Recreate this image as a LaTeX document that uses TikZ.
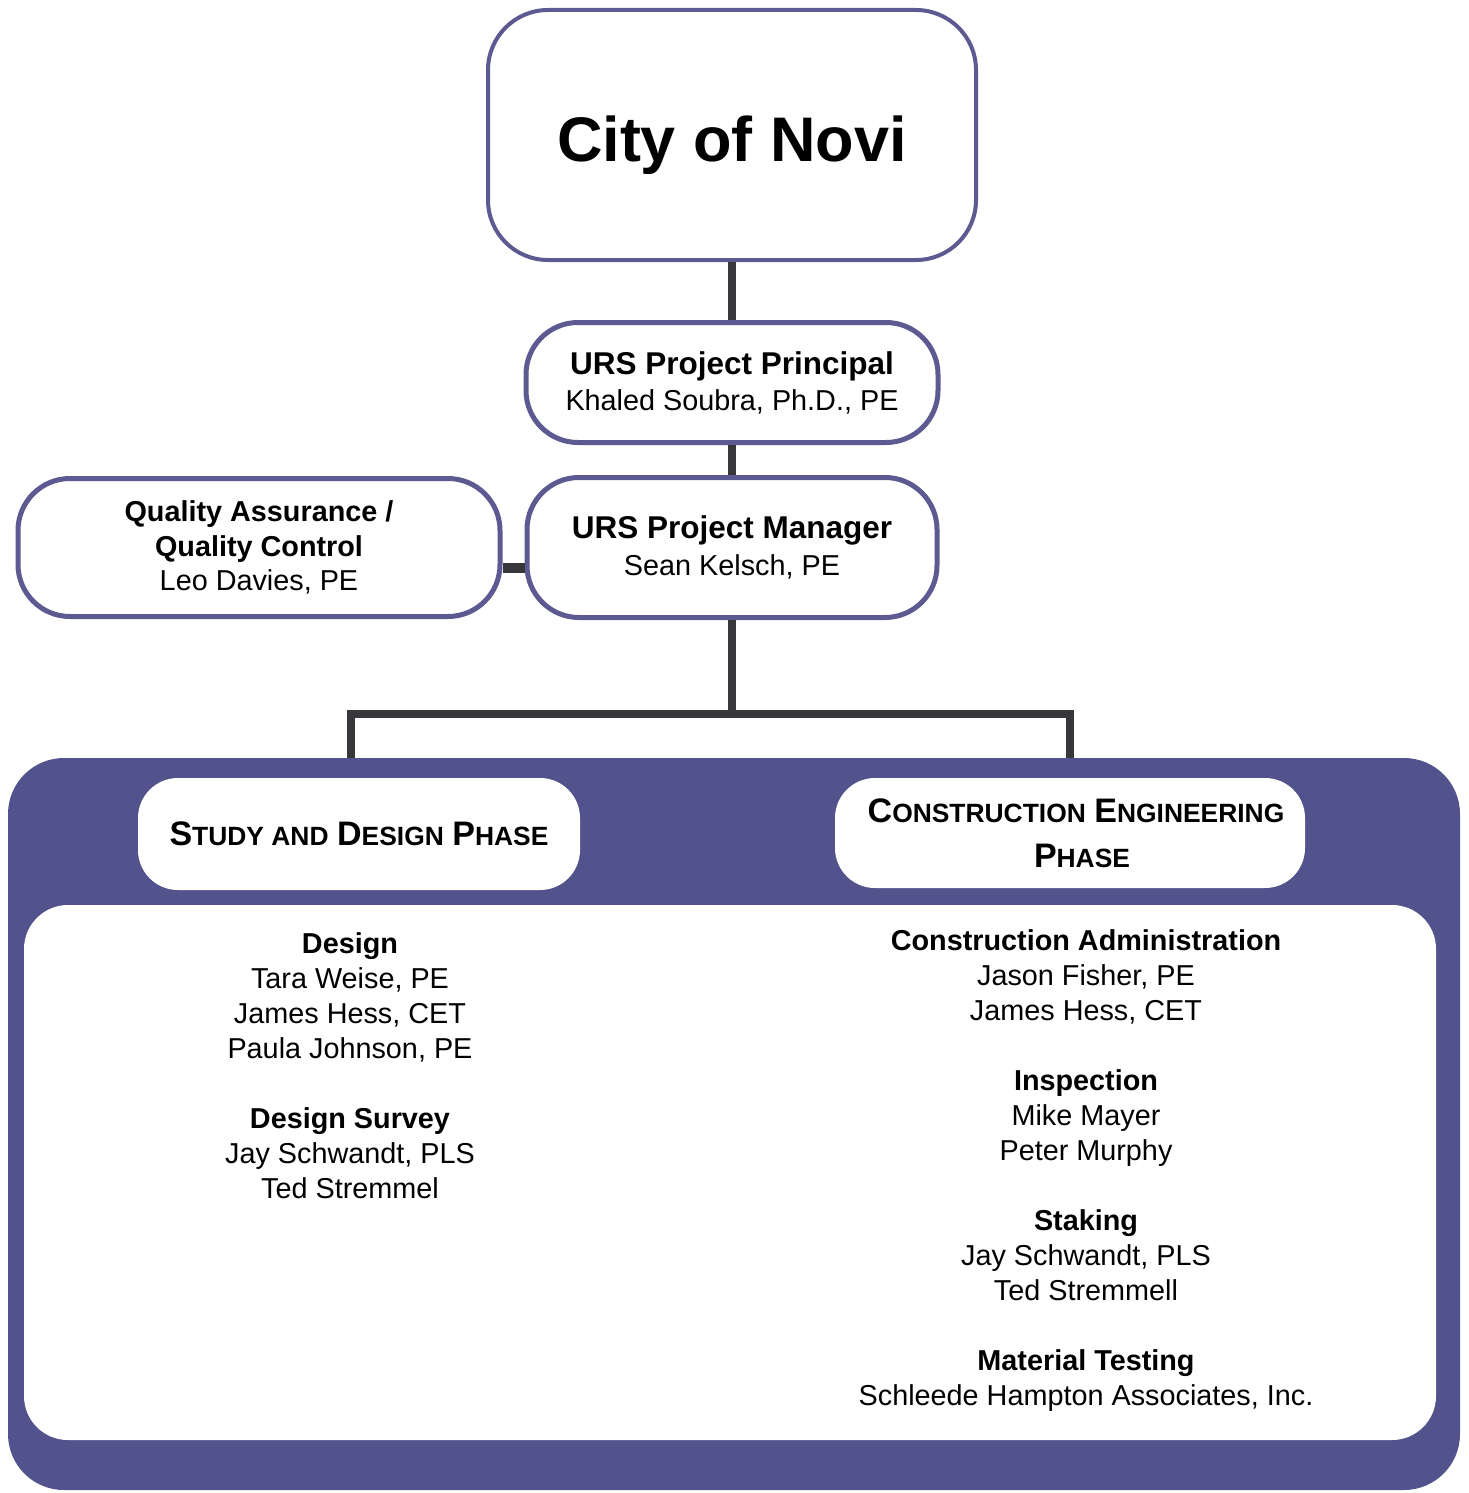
\documentclass[tikz,border=0pt]{standalone}
\usepackage{xcolor}
\usepackage{fontspec}
\setmainfont{Liberation Sans}
\usetikzlibrary{positioning}

\definecolor{panelblue}{RGB}{82,82,140}
\definecolor{edgeblue}{RGB}{92,90,145}
\definecolor{linkgray}{RGB}{55,55,60}
\newcommand{\capsc}[2]{{\fontsize{17}{20}\selectfont #1}{\fontsize{13.2}{15}\selectfont #2}}

\tikzset{
  box/.style = {draw=edgeblue, line width=2.5pt, fill=white, rounded corners=26pt,
                align=center, inner sep=0pt, font=\fontsize{14.4}{18}\selectfont},
  phasebox/.style = {fill=white, rounded corners=20pt, align=center, inner sep=0pt,
                     font=\bfseries\fontsize{15.4}{22.5}\selectfont},
  link/.style = {draw=linkgray, line width=4pt},
  names/.style = {align=center, inner sep=0pt, font=\fontsize{14.4}{17.5}\selectfont},
}

\begin{document}
\begin{tikzpicture}[x=1pt, y=1pt]
    \useasboundingbox (0,0) rectangle (734,-746.5);

    \node[box, rounded corners=30pt, line width=2pt, minimum width=244pt, minimum height=125pt,
          font=\bfseries\fontsize{31.5}{36}\selectfont] (city) at (366,-67.5)
      {\raisebox{0pt}[\dimexpr\height+10pt\relax][\depth]{City of Novi}};
    \node[box, below=29pt of city, minimum width=206pt, minimum height=60pt] (prin)
      {{\bfseries\fontsize{15.75}{18}\selectfont URS Project Principal}\\ Khaled Soubra, Ph.D., PE};
    \node[box, below=15pt of prin, minimum width=205pt, minimum height=70pt,
          font=\fontsize{14.4}{18.5}\selectfont] (mgr)
      {{\bfseries\fontsize{15.75}{18.5}\selectfont URS Project Manager}\\ Sean Kelsch, PE};
    \node[box, left=11pt of mgr, minimum width=241pt, minimum height=69pt,
          font=\fontsize{14.4}{17.25}\selectfont] (qa)
      {\textbf{Quality Assurance /}\\ \textbf{Quality Control}\\ Leo Davies, PE};

    \node[fill=panelblue, rounded corners=28pt, minimum width=726pt, minimum height=366pt,
          inner sep=0pt] (panel) at (367,-562) {};
    \node[fill=white, rounded corners=22pt, minimum width=706pt, minimum height=267.5pt,
          inner sep=0pt] (inner) at (365,-586.25) {};

    \node[phasebox, minimum width=221pt, minimum height=56pt] (study) at (179.5,-417)
      {\capsc{S}{TUDY AND} \capsc{D}{ESIGN} \capsc{P}{HASE}};
    \node[phasebox, minimum width=235pt, minimum height=55pt] (cons) at (535,-416.5)
      {\hspace*{6pt}\capsc{C}{ONSTRUCTION} \capsc{E}{NGINEERING}\\ \hspace*{12pt}\capsc{P}{HASE}};

    \draw[link] (city.south) -- (city.south |- prin.north);
    \draw[link] (prin.south) -- (prin.south |- mgr.north);
    \draw[link, line width=5pt] ([yshift=-10pt]qa.east) -- ([yshift=-10pt]qa.east -| mgr.west);
    \draw[link] (mgr.south) -- ++(0,-47) coordinate (split);
    \draw[link] (study.north |- panel.north) ++(-4,0) |- (split) -| (cons.north |- panel.north);

    \node[names, anchor=base] (design) at (175,-599)
      {\textbf{Design}\\ Tara Weise, PE\\ James Hess, CET\\ Paula Johnson, PE\\[17.5pt]
       \textbf{Design Survey}\\ Jay Schwandt, PLS\\ Ted Stremmel};
    \node[names, anchor=base] (construct) at (543,-702.5)
      {\textbf{Construction Administration}\\ Jason Fisher, PE\\ James Hess, CET\\[17.5pt]
       \textbf{Inspection}\\ Mike Mayer\\ Peter Murphy\\[17.5pt]
       \textbf{Staking}\\ Jay Schwandt, PLS\\ Ted Stremmell\\[17.5pt]
       \textbf{Material Testing}\\ Schleede Hampton Associates, Inc.};
\end{tikzpicture}
\end{document}
